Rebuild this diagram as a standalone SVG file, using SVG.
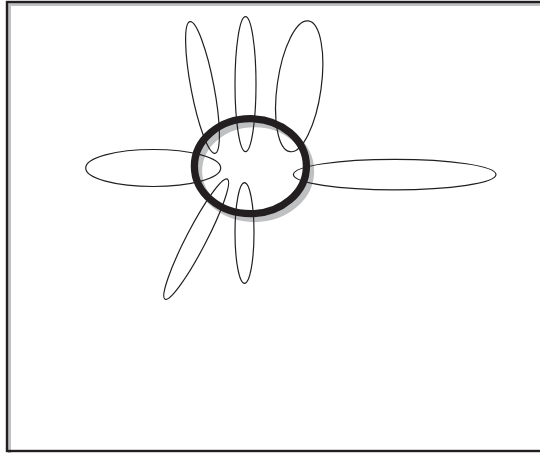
<svg xmlns="http://www.w3.org/2000/svg" width="540" height="453" viewBox="0 0 540 453">
<style>
.petal{fill:none;stroke:#231f20;stroke-width:1.2}
.ring{fill:none;stroke:#231f20;stroke-width:7.3}
.shadow{fill:none;stroke:#bfc0c2;stroke-width:7.3}
</style>
<rect width="540" height="453" fill="#fff"/>
<g id="frame">
<rect x="9.5" y="4.5" width="540" height="450" fill="none" stroke="#bfc0c2" stroke-width="3"/>
<rect x="7" y="2" width="545" height="449" fill="none" stroke="#231f20" stroke-width="2.4"/>
</g>
<g id="ring-shadow">
<ellipse class="shadow" cx="254.5" cy="171" rx="56" ry="47.5"/>
</g>
<g id="petals">
<g id="petal-top-left"><ellipse class="petal" cx="202.5" cy="87.5" rx="11.5" ry="67" transform="rotate(-10.8 202.5 87.5)"/></g>
<g id="petal-top-center"><ellipse class="petal" cx="245.5" cy="84.2" rx="10.5" ry="67.5"/></g>
<g id="petal-top-right"><ellipse class="petal" cx="299.2" cy="86.3" rx="22" ry="66" transform="rotate(8 299.2 86.3)"/></g>
<g id="petal-left"><ellipse class="petal" cx="153.2" cy="168" rx="67.5" ry="18.5"/></g>
<g id="petal-right"><ellipse class="petal" cx="394.7" cy="174.6" rx="101.3" ry="15.3"/></g>
<g id="petal-bottom-left"><ellipse class="petal" cx="196.2" cy="239.2" rx="10" ry="67.7" transform="rotate(27.4 196.2 239.2)"/></g>
<g id="petal-bottom"><ellipse class="petal" cx="244.5" cy="233" rx="9.5" ry="50.3"/></g>
</g>
<g id="ring">
<ellipse class="ring" cx="250.4" cy="166.2" rx="56" ry="47.5"/>
</g>
<g id="connectors"></g>
</svg>
